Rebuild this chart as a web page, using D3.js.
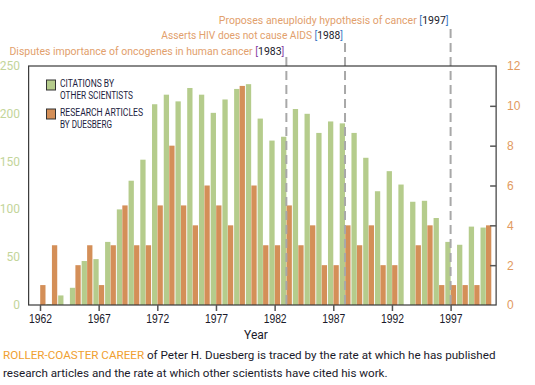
<!DOCTYPE html>
<html>
<head>
<meta charset="utf-8">
<style>
  body { margin: 0; background: #fff; }
  svg { display: block; font-family: Roboto, 'DejaVu Sans Condensed', sans-serif; }
</style>
</head>
<body>
<div id="chart"></div>
<script src="https://d3js.org/d3.v7.min.js"></script>
<script>
const years = d3.range(1962, 2001);
// citations by other scientists (left axis)
const citations = [0, 1, 10, 18, 46, 48, 66, 100, 130, 152, 210, 220, 213, 227, 220, 201, 215, 226, 231, 195,
  172, 176, 205, 200, 180, 192, 190, 180, 154, 119, 140, 126, 108, 109, 91, 66, 63, 82, 81];
// research articles by Duesberg (right axis)
const articles = [1, 3, 0, 2, 3, 1, 3, 5, 3, 3, 5, 8, 5, 4, 6, 5, 4, 11, 6, 3,
  3, 5, 3, 4, 2, 2, 4, 3, 4, 2, 2, 0, 3, 4, 1, 1, 1, 1, 4];
const leftTicks = [0, 50, 100, 150, 200, 250];
const rightTicks = [0, 2, 4, 6, 8, 10, 12];
const yearTicks = [1962, 1967, 1972, 1977, 1982, 1987, 1992, 1997];
const events = [
  { year: 1983, text: 'Disputes importance of oncogenes in human cancer', top: 57, row: 55, len: 275, bracket: '#8a4aa6' },
  { year: 1988, text: 'Asserts HIV does not cause AIDS', top: 43, row: 39, len: 182, bracket: '#3f7cc4' },
  { year: 1997, text: 'Proposes aneuploidy hypothesis of cancer', top: 29, row: 24, len: 230, bracket: '#3f7cc4' }
];

const W = 535, H = 385;
const green = '#b5cc8c', orange = '#d48f58';
const svg = d3.select('#chart').append('svg').attr('width', W).attr('height', H);

// shrink/grow font so the text is as wide as in the print
function fitWidth(node, target) {
  const size = parseFloat(node.getAttribute('font-size'));
  const w = node.getComputedTextLength();
  if (w > 0) node.setAttribute('font-size', (size * target / w).toFixed(2));
}

const x = d3.scaleLinear().domain([1962, 1997]).range([40, 450.6]);
const y = d3.scaleLinear().domain([0, 250]).range([305, 66]);
const y2 = d3.scaleLinear().domain([0, 12]).range([305, 66]);
const left = x(1961.03), right = x(2000.88);
const bw = 5.3;

// bars
svg.append('g').selectAll('rect').data(years.map((yr, i) => ({ yr, v: citations[i] })))
  .join('rect')
  .attr('x', d => x(d.yr) - bw)
  .attr('width', bw)
  .attr('y', d => y(d.v))
  .attr('height', d => y(0) - y(d.v))
  .attr('fill', green);

svg.append('g').selectAll('rect').data(years.map((yr, i) => ({ yr, v: articles[i] })))
  .join('rect')
  .attr('x', d => x(d.yr) + 0.2)
  .attr('width', bw)
  .attr('y', d => y2(d.v))
  .attr('height', d => y2(0) - y2(d.v))
  .attr('fill', orange);

// event lines
svg.append('g').selectAll('line').data(events).join('line')
  .attr('x1', d => x(d.year)).attr('x2', d => x(d.year))
  .attr('y1', d => d.top).attr('y2', 305)
  .attr('stroke', '#a8a8a8').attr('stroke-width', 2)
  .attr('stroke-dasharray', '9,5');

// frame
svg.append('rect')
  .attr('x', left).attr('y', y(250))
  .attr('width', right - left).attr('height', y(0) - y(250))
  .attr('fill', 'none').attr('stroke', '#3a3a3a').attr('stroke-width', 1.2);

// bottom axis
const xAxis = svg.append('g').attr('transform', `translate(0,${y(0)})`)
  .call(d3.axisBottom(x).tickValues(yearTicks).tickFormat(d3.format('d')).tickSize(6).tickPadding(3));
xAxis.select('.domain').remove();
xAxis.selectAll('line').attr('stroke', '#555').attr('stroke-width', 1.5);
xAxis.selectAll('text').attr('fill', '#1a1a2a').attr('font-size', 12).attr('font-family', null)
  .attr('textLength', 23).attr('lengthAdjust', 'spacingAndGlyphs');

svg.append('text').attr('x', 256).attr('y', 339).attr('text-anchor', 'middle')
  .attr('font-size', 12).attr('fill', '#1a1a2a').text('Year');

// left labels
svg.append('g').selectAll('text').data(leftTicks).join('text')
  .attr('x', 20).attr('y', d => y(d) + 4)
  .attr('text-anchor', 'end').attr('font-size', 12).attr('fill', '#c3d59a')
  .text(d => d);

// right axis
const yAxisR = svg.append('g').attr('transform', `translate(${right},0)`)
  .call(d3.axisRight(y2).tickValues(rightTicks).tickSizeInner(-6).tickSizeOuter(0).tickPadding(11));
yAxisR.select('.domain').remove();
yAxisR.selectAll('line').attr('stroke', '#555').attr('stroke-width', 1.5)
  .filter(d => d === 0 || d === 12).remove();
yAxisR.selectAll('text').attr('fill', '#e29a60').attr('font-size', 12).attr('font-family', null);

// legend
const legend = [
  { color: green, lines: ['CITATIONS BY', 'OTHER SCIENTISTS'], lens: [54, 73], top: 80 },
  { color: orange, lines: ['RESEARCH ARTICLES', 'BY DUESBERG'], lens: [83, 52], top: 109 }
];
const lg = svg.append('g').selectAll('g').data(legend).join('g');
lg.append('rect').attr('x', 46.5).attr('y', d => d.top).attr('width', 9).attr('height', 10)
  .attr('fill', d => d.color).attr('stroke', '#333').attr('stroke-width', 1);
lg.selectAll('text').data(d => d.lines.map((t, i) => ({ t, i, top: d.top, len: d.lens[i] })))
  .join('text').attr('font-size', 10).attr('fill', '#1c1c40')
  .attr('x', 60).attr('y', d => d.top + 7 + d.i * 11.5)
  .attr('textLength', d => d.len).attr('lengthAdjust', 'spacingAndGlyphs')
  .text(d => d.t);

// event annotations
const ev = svg.append('g').selectAll('text').data(events).join('text')
  .attr('x', d => x(d.year) - 2).attr('y', d => d.row)
  .attr('text-anchor', 'end').attr('font-size', 12.5);
ev.append('tspan').attr('fill', '#e2a06c').text(d => d.text + ' ');
ev.append('tspan').attr('fill', d => d.bracket).text('[');
ev.append('tspan').attr('fill', '#1a1a2a').text(d => d.year);
ev.append('tspan').attr('fill', d => d.bracket).text(']');
ev.each(function(d) { fitWidth(this, d.len); });

// caption
const cap1 = svg.append('text').attr('x', 3).attr('y', 359).attr('font-size', 13).attr('fill', '#1a1a2a');
cap1.append('tspan').attr('fill', '#f0a030').text('ROLLER-COASTER CAREER');
cap1.append('tspan').text(' of Peter H. Duesberg is traced by the rate at which he has published');
fitWidth(cap1.node(), 493);
svg.append('text').attr('x', 3).attr('y', 377).attr('font-size', cap1.attr('font-size')).attr('fill', '#1a1a2a')
  .text('research articles and the rate at which other scientists have cited his work.');
</script>
</body>
</html>
